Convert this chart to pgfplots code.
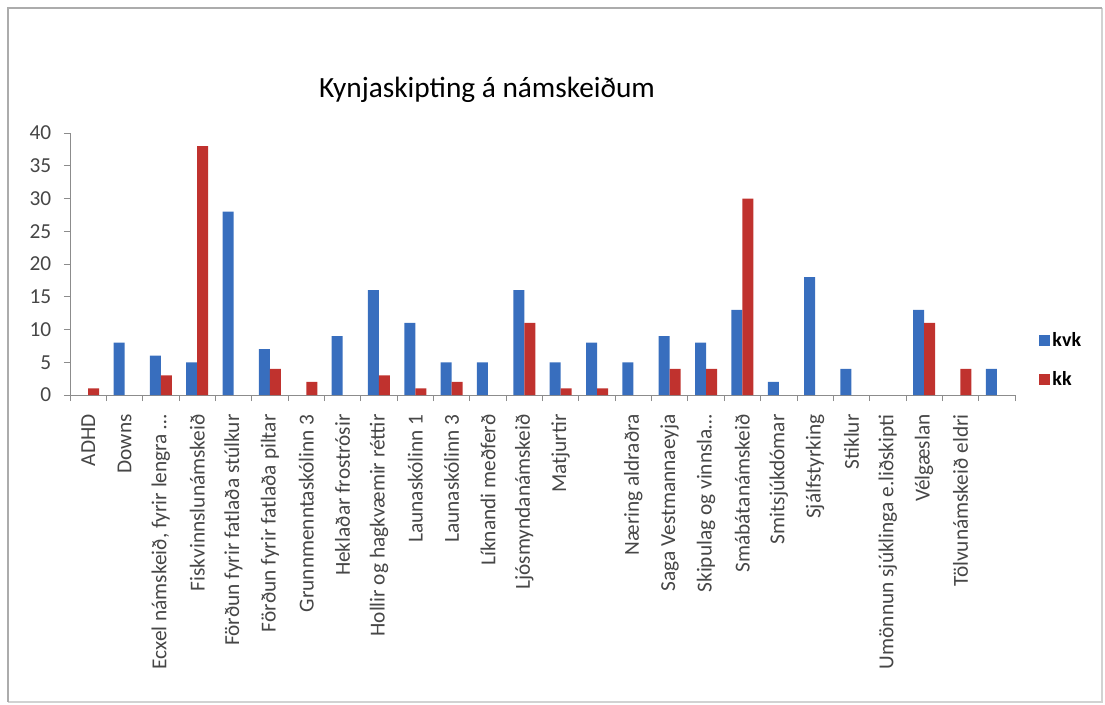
\documentclass[border=0pt]{standalone}
\usepackage{fontspec}
\setmainfont{Carlito}
\usepackage{pgfplots}
\pgfplotsset{compat=1.18}
\definecolor{kvk}{RGB}{56,110,190}
\definecolor{kk}{RGB}{192,50,46}
\definecolor{txt}{RGB}{70,70,70}
\definecolor{axl}{RGB}{140,140,140}

\begin{document}
\begin{tikzpicture}[x=0.75pt,y=0.75pt]
% frame of the chart area, in pixel-like units (origin at axis corner)
\useasboundingbox (-70,-309) rectangle (1035,395);
\draw[gray!35, line width=0.9pt] (1032,387) -- (1032,-307) -- (-62,-307);
\draw[gray!65, line width=1.8pt] (-62,-307) -- (-62,387) -- (1032,387);
\node[font=\fontsize{22}{26}\selectfont] at (417,305) {Kynjaskipting á námskeiðum};

\begin{axis}[
  at={(0,0)}, anchor=south west,
  scale only axis,
  width=708.75pt, height=196.5pt,
  ybar=0pt,
  bar width=8.25pt,
  xmin=0.5, xmax=26.5,
  ymin=0, ymax=40,
  axis x line*=bottom, axis y line*=left,
  axis line style={draw=axl, -},
  tick align=outside,
  major tick length=4.5pt,
  tick style={draw=axl, line width=0.6pt},
  ytick={0,5,...,40},
  yticklabel style={text=txt, font=\fontsize{16}{18}\selectfont, xshift=-6pt},
  /pgf/number format/assume math mode=true,
  xtick={0.5,1.5,...,26.5},
  xticklabels={},
  extra x ticks={1,2,...,26},
  extra x tick style={major tick length=0pt},
  extra x tick labels={ADHD, Downs, {Ecxel námskeið, fyrir lengra \dots}, Fiskvinnslunámskeið,
    Förðun fyrir fatlaða stúlkur, Förðun fyrir fatlaða piltar, Grunnmenntaskólinn 3,
    Heklaðar frostrósir, Hollir og hagkvæmir réttir, Launaskólinn 1, Launaskólinn 3,
    Líknandi meðferð, Ljósmyndanámskeið, Matjurtir, {}, Næring aldraðra,
    Saga Vestmannaeyja, Skipulag og vinnsla\dots, Smábátanámskeið, Smitsjúkdómar,
    Sjálfstyrking, Stiklur, Umönnun sjúklinga e.liðskipti, Vélgæslan,
    Tölvunámskeið eldri, {}},
  xticklabel style={rotate=90, anchor=east, text=txt, font=\fontsize{16}{18}\selectfont, xshift=-11pt},
  legend style={at={(1.021,0.134)}, anchor=west, draw=none, fill=none,
    font=\bfseries\fontsize{15}{17}\selectfont, row sep=13pt},
  legend cell align=left,
  legend image code/.code={\fill[#1] (0pt,-4pt) rectangle (8pt,4pt);},
]
\addplot[fill=kvk, draw=none] coordinates {
(2,8) (3,6) (4,5) (5,28) (6,7) (8,9) (9,16) (10,11) (11,5) (12,5) (13,16)
(14,5) (15,8) (16,5) (17,9) (18,8) (19,13) (20,2) (21,18) (22,4) (24,13) (26,4)
};
\addplot[fill=kk, draw=none] coordinates {
(1,1) (3,3) (4,38) (6,4) (7,2) (9,3) (10,1) (11,2) (13,11) (14,1) (15,1)
(17,4) (18,4) (19,30) (24,11) (25,4)
};
\addlegendentry{kvk}
\addlegendentry{kk}
\end{axis}
\end{tikzpicture}
\end{document}
